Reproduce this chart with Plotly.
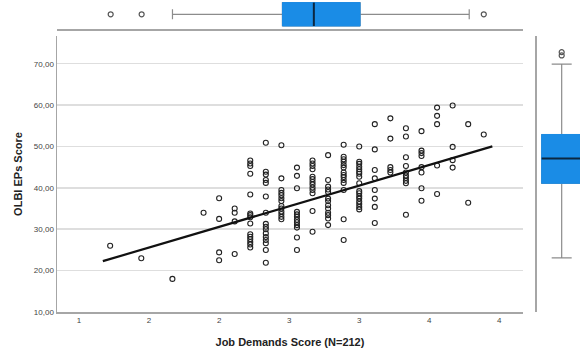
import plotly.graph_objects as go

# ---------------- data ----------------
# x values are discrete Job Demands scores (steps of 1/9); y = OLBI EPs scores
col_x = [1 + j / 9 for j in [2, 4, 6, 8, 9, 10, 11, 12, 13, 14, 15, 16, 17, 18, 19, 20, 21, 22, 23, 24, 25, 26]]
col_y = [
    [26.0],
    [23.0],
    [18.0],
    [34.0],
    [37.5, 32.5, 24.4, 22.5],
    [35.0, 34.0, 31.9, 24.0],
    [46.6, 45.9, 45.3, 43.4, 38.4, 33.8, 33.4, 32.9, 31.4, 28.8, 28.2, 27.6, 26.9, 26.3, 25.6],
    [50.9, 43.9, 43.2, 41.9, 41.2, 37.9, 34.0, 31.3, 30.6, 30.0, 29.0, 28.1, 27.4, 26.6, 25.0, 21.9],
    [50.3, 42.3, 39.5, 38.8, 38.2, 37.5, 36.8, 35.6, 35.0, 34.3, 33.7, 33.0, 32.4],
    [44.9, 42.9, 39.9, 34.2, 33.6, 33.0, 32.3, 31.7, 31.0, 30.4, 28.0, 25.0],
    [46.6, 45.9, 45.3, 44.5, 42.7, 42.1, 41.4, 40.8, 40.1, 39.5, 38.7, 34.4, 29.4],
    [47.9, 41.9, 40.3, 39.6, 39.0, 37.4, 36.8, 35.8, 35.0, 34.0, 33.4, 32.6, 31.0],
    [50.4, 47.5, 46.9, 46.3, 45.5, 44.9, 43.7, 43.1, 42.6, 41.9, 41.2, 39.5, 32.4, 27.4],
    [50.0, 46.3, 45.8, 45.1, 44.5, 43.9, 43.4, 42.7, 41.1, 39.2, 38.7, 38.0, 37.4, 36.7, 36.1, 35.4, 34.8],
    [55.4, 49.3, 44.3, 42.3, 39.5, 37.4, 35.4, 31.5],
    [56.8, 51.9, 45.0, 44.3, 43.7],
    [54.4, 52.4, 47.4, 45.3, 43.7, 43.0, 42.4, 41.7, 41.1, 33.5],
    [53.7, 49.0, 48.4, 47.7, 45.0, 43.7, 39.9, 36.9],
    [59.4, 57.4, 55.4, 45.4, 38.5],
    [59.9, 49.9, 46.7, 44.9],
    [55.4, 36.4],
    [52.9],
]

# linear fit line
fit_intercept = 10.62
fit_slope = 9.975
fit_x = [1.17, 3.95]

# marginal box plot of Job Demands (top)
jd_box = dict(lowerfence=1.667, q1=2.452, median=2.676, q3=3.006, upperfence=3.785)
jd_outliers = [1.226, 1.447, 3.889]

# marginal box plot of OLBI EPs (right)
ep_box = dict(lowerfence=23.1, q1=41.1, median=47.1, q3=52.9, upperfence=69.9)
ep_outliers = [72.0, 72.8]

x_tickvals = [1, 1.5, 2, 2.5, 3, 3.5, 4]
x_ticktext = ["1", "2", "2", "3", "3", "4", "4"]
y_tickvals = [10, 20, 30, 40, 50, 60, 70]
y_ticktext = ["10,00", "20,00", "30,00", "40,00", "50,00", "60,00", "70,00"]

# ---------------- figure ----------------
W, H = 580, 356
ML, MB = 57.4, 44
PW, PH = W - ML, H - MB

def px_x(p):
    return (p - ML) / PW

def px_y(p):
    return (H - MB - p) / PH

BLUE = "#1a8ce6"
GRAY = "#8c8c8c"
AX = "#a6a6a6"
FONT = "Liberation Sans, Arial, sans-serif"

xs, ys = [], []
for xv, yl in zip(col_x, col_y):
    for yv in yl:
        xs.append(xv)
        ys.append(yv)

fig = go.Figure()

fig.add_trace(go.Scatter(
    x=xs, y=ys, mode="markers",
    marker=dict(symbol="circle-open", size=5, color="#222222", line=dict(width=1.1, color="#222222")),
    xaxis="x", yaxis="y", hoverinfo="skip"))

fig.add_trace(go.Scatter(
    x=fit_x, y=[fit_intercept + fit_slope * v for v in fit_x], mode="lines",
    line=dict(color="#111111", width=2.2), xaxis="x", yaxis="y", hoverinfo="skip"))

# top box plot (horizontal)
fig.add_trace(go.Box(
    orientation="h", y=[0], lowerfence=[jd_box["lowerfence"]], q1=[jd_box["q1"]],
    median=[jd_box["median"]], q3=[jd_box["q3"]], upperfence=[jd_box["upperfence"]],
    width=1, whiskerwidth=0.43, fillcolor=BLUE, line=dict(color=GRAY, width=1.2),
    xaxis="x2", yaxis="y2", hoverinfo="skip"))
fig.add_trace(go.Box(
    orientation="h", y=[0], lowerfence=[jd_box["q1"]], q1=[jd_box["q1"]],
    median=[jd_box["median"]], q3=[jd_box["q3"]], upperfence=[jd_box["q3"]],
    width=1, whiskerwidth=0, fillcolor=BLUE, line=dict(color=BLUE, width=1),
    xaxis="x2", yaxis="y2", hoverinfo="skip"))
fig.add_trace(go.Scatter(
    x=[jd_box["median"], jd_box["median"]], y=[-0.5, 0.5], mode="lines",
    line=dict(color="#0b2740", width=2), xaxis="x2", yaxis="y2", hoverinfo="skip"))
fig.add_trace(go.Scatter(
    x=jd_outliers, y=[0] * len(jd_outliers), mode="markers",
    marker=dict(symbol="circle-open", size=5, color="#555555", line=dict(width=1.2, color="#555555")),
    xaxis="x2", yaxis="y2", hoverinfo="skip"))

# right box plot (vertical)
fig.add_trace(go.Box(
    x=[0], lowerfence=[ep_box["lowerfence"]], q1=[ep_box["q1"]],
    median=[ep_box["median"]], q3=[ep_box["q3"]], upperfence=[ep_box["upperfence"]],
    width=1, whiskerwidth=0.5, fillcolor=BLUE, line=dict(color=GRAY, width=1.2),
    xaxis="x3", yaxis="y3", hoverinfo="skip"))
fig.add_trace(go.Box(
    x=[0], lowerfence=[ep_box["q1"]], q1=[ep_box["q1"]],
    median=[ep_box["median"]], q3=[ep_box["q3"]], upperfence=[ep_box["q3"]],
    width=1, whiskerwidth=0, fillcolor=BLUE, line=dict(color=BLUE, width=1),
    xaxis="x3", yaxis="y3", hoverinfo="skip"))
fig.add_trace(go.Scatter(
    x=[-0.5, 0.5], y=[ep_box["median"], ep_box["median"]], mode="lines",
    line=dict(color="#0b2740", width=2), xaxis="x3", yaxis="y3", hoverinfo="skip"))
fig.add_trace(go.Scatter(
    x=[0] * len(ep_outliers), y=ep_outliers, mode="markers",
    marker=dict(symbol="circle-open", size=5, color="#555555", line=dict(width=1.2, color="#555555")),
    xaxis="x3", yaxis="y3", hoverinfo="skip"))

main_top = px_y(36)
x_lo = 1 + (ML - 79.4) / 140
x_hi = 1 + (523 - 79.4) / 140
y_lo = 10
y_hi = 10 + (312 - 36) / 4.138

fig.update_layout(
    width=W, height=H,
    margin=dict(l=ML, r=0, t=0, b=MB, autoexpand=False),
    paper_bgcolor="white", plot_bgcolor="white",
    showlegend=False, hovermode=False,
    font=dict(family=FONT, color="#333333"),
    xaxis=dict(
        domain=[0, px_x(523)], range=[x_lo, x_hi], anchor="y", automargin=False,
        tickvals=x_tickvals, ticktext=x_ticktext, ticks="",
        tickfont=dict(size=8, color="#444444"),
        showgrid=False, zeroline=False, showline=True, linecolor=AX, linewidth=1.5,
        title=dict(text="Job Demands Score (N=212)", font=dict(size=11, color="#222222", weight="bold"), standoff=14),
    ),
    yaxis=dict(
        domain=[0, main_top], range=[y_lo, y_hi], anchor="x", automargin=False,
        tickvals=y_tickvals, ticktext=y_ticktext, ticks="",
        tickfont=dict(size=8, color="#444444"),
        showgrid=True, gridcolor="#dedede", gridwidth=1.5, zeroline=False,
        showline=True, linecolor=AX, linewidth=1.5,
        title=dict(text="OLBI EPs Score", font=dict(size=11, color="#222222", weight="bold"), standoff=9),
    ),
    xaxis2=dict(
        domain=[0, px_x(523)], range=[x_lo, x_hi], anchor="y2", automargin=False,
        showticklabels=False, ticks="", showgrid=False, zeroline=False,
        showline=True, linecolor=AX, linewidth=1.5,
    ),
    yaxis2=dict(
        domain=[px_y(29), 1], range=[-(29 - 14.3) / 23.4, 14.3 / 23.4], anchor="x2", automargin=False,
        showticklabels=False, ticks="", showgrid=False, zeroline=False, showline=False,
    ),
    xaxis3=dict(
        domain=[px_x(537), 1], range=[(537 - 561.7) / 40, (580 - 561.7) / 40], anchor="y3", automargin=False,
        showticklabels=False, ticks="", showgrid=False, zeroline=False, showline=False,
    ),
    yaxis3=dict(
        domain=[0, main_top], range=[y_lo, y_hi], anchor="x3", automargin=False,
        showticklabels=False, ticks="", showgrid=False, zeroline=False,
        showline=True, linecolor=AX, linewidth=1.5,
    ),
)

fig.write_html(
    "out.html",
    config={"displayModeBar": False, "staticPlot": True},
    post_script="document.body.style.margin='0';document.body.style.overflow='hidden';",
)
